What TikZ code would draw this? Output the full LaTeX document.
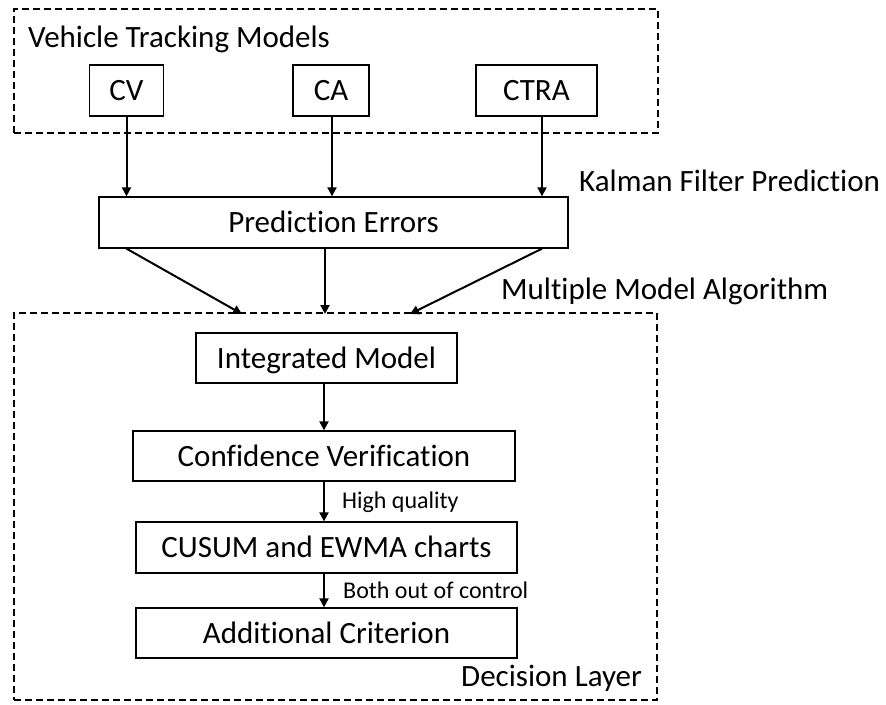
\documentclass[tikz,border=0pt]{standalone}
\usepackage{fontspec}
\setmainfont{Carlito}[Ligatures=NoCommon]
\usetikzlibrary{arrows.meta}

\begin{document}
\begin{tikzpicture}[x=1pt,y=-1pt,
  box/.style={draw, line width=1.3pt, rectangle, inner sep=0pt,
    font=\fontsize{31}{37}\selectfont, text height=20pt, text depth=0pt},
  frame/.style={draw, line width=1.2pt, dash pattern=on 7pt off 4pt,
    rectangle, inner sep=0pt},
  lbl/.style={anchor=base west, inner sep=0pt, font=\fontsize{31}{37}\selectfont},
  small/.style={anchor=base west, inner sep=0pt, font=\fontsize{24}{29}\selectfont},
  arr/.style={line width=2pt, -{Triangle[length=9pt,width=9pt]}}]
\useasboundingbox (0,0) rectangle (886,704);

% group frames
\node[frame, minimum width=644pt, minimum height=124pt] (tracking) at (336,71) {};
\node[frame, minimum width=643pt, minimum height=387pt] (layer) at (335.5,506.5) {};

% tracking models
\node[box, minimum width=74pt, minimum height=51pt] (cv) at (126.5,90.5) {CV};
\node[box, minimum width=76pt, minimum height=51pt] (ca) at (331,90.5) {CA};
\node[box, minimum width=121pt, minimum height=51pt] (ctra) at (536.5,90.5) {CTRA};

\node[box, minimum width=469pt, minimum height=51pt] (pe) at (333.5,222.5) {Prediction Errors};

% decision layer
\node[box, minimum width=261pt, minimum height=50pt] (im) at (326.5,358) {Integrated Model};
\node[box, minimum width=382pt, minimum height=50pt] (cver) at (324,456) {Confidence Verification};
\node[box, minimum width=381pt, minimum height=51pt] (charts) at (326.5,547.5) {CUSUM and EWMA charts};
\node[box, minimum width=381pt, minimum height=50pt] (crit) at (326.5,633) {Additional Criterion};

% labels
\node[lbl] (ltrack) at (28,47) {Vehicle Tracking Models};
\node[lbl] (lkal) at (579,191) {Kalman Filter Prediction};
\node[lbl] (lmm) at (501,299) {Multiple Model Algorithm};
\node[lbl] (ldec) at (461,686) {Decision Layer};
\node[small] (lhq) at (342,508) {High quality};
\node[small] (lboth) at (343,598) {Both out of control};

% arrow ends on the decision layer frame
\coordinate (m1) at (242,314);
\coordinate (m2) at (325,314);
\coordinate (m3) at (410,314);

% connectors
\draw[arr] (cv.south) -- (cv.south |- pe.north);
\draw[arr] ([xshift=1pt]ca.south) -- ([xshift=1pt]ca.south |- pe.north);
\draw[arr] ([xshift=5.5pt]ctra.south) -- ([xshift=5.5pt]ctra.south |- pe.north);

\draw[arr] (pe.south -| cv.south) -- (m1);
\draw[arr] (pe.south -| m2) -- (m2);
\draw[arr] ([xshift=5.5pt]pe.south -| ctra.south) -- (m3);

\draw[arr] (im.south -| cver.south) -- (cver.north);
\draw[arr] (cver.south) -- (cver.south |- charts.north);
\draw[arr] (charts.south -| cver.south) -- (cver.south |- crit.north);
\end{tikzpicture}
\end{document}
